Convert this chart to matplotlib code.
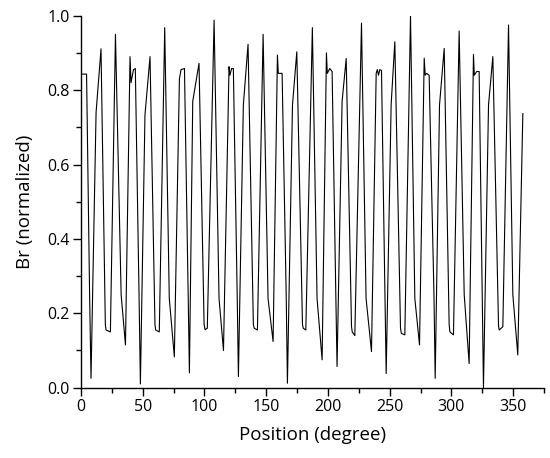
import matplotlib
matplotlib.use("Agg")
import matplotlib.pyplot as plt
from matplotlib.ticker import MultipleLocator, FormatStrFormatter

# Traced waveform vertices: position (degree) and normalized Br
position = [
    0.0, 4.5, 7.0, 8.1, 12.2, 16.2, 19.7, 20.3, 23.8, 27.9, 32.5, 36.0,
    39.7, 40.5, 42.5, 44.0, 47.0, 48.1, 51.8, 55.9, 59.9, 60.5, 63.4, 67.8,
    71.5, 75.6, 79.7, 81.0, 83.8, 86.8, 87.8, 90.5, 95.6, 99.7, 100.5, 102.3,
    107.8, 111.8, 115.4, 119.9, 120.6, 122.0, 123.4, 126.5, 127.5, 131.5, 135.3,
    139.6, 140.3, 142.9, 147.5, 151.5, 155.6, 159.1, 159.8, 162.9, 166.2, 167.2,
    171.3, 174.8, 179.4, 180.0, 182.1, 187.4, 191.2, 195.3, 198.8, 199.5, 201.5,
    203.4, 206.4, 207.4, 211.5, 214.8, 219.1, 219.7, 221.8, 227.2, 230.9, 235.3,
    239.1, 240.0, 241.0, 242.0, 243.4, 246.2, 247.2, 251.2, 254.2, 258.8, 259.5,
    262.3, 266.9, 270.4, 274.2, 278.0, 278.8, 280.0, 282.0, 285.9, 286.9, 290.4,
    294.2, 298.2, 298.8, 301.7, 306.3, 310.4, 314.4, 317.9, 318.6, 320.5, 322.5,
    325.0, 326.0, 330.1, 333.6, 338.2, 338.8, 341.7, 346.3, 349.8, 353.8, 357.9,
]
br = [
    0.843, 0.843, 0.24, 0.025, 0.74, 0.911, 0.17, 0.155, 0.15, 0.95, 0.25, 0.115,
    0.89, 0.82, 0.855, 0.858, 0.25, 0.01, 0.733, 0.89, 0.17, 0.155, 0.15, 0.968,
    0.24, 0.083, 0.83, 0.855, 0.858, 0.25, 0.04, 0.77, 0.872, 0.17, 0.156, 0.16,
    0.988, 0.24, 0.10, 0.863, 0.84, 0.858, 0.858, 0.25, 0.03, 0.76, 0.923,
    0.17, 0.16, 0.155, 0.95, 0.24, 0.124, 0.894, 0.845, 0.845, 0.25, 0.012,
    0.76, 0.903, 0.17, 0.16, 0.155, 0.968, 0.24, 0.075, 0.90, 0.845, 0.858,
    0.85, 0.25, 0.057, 0.77, 0.885, 0.165, 0.15, 0.14, 0.98, 0.24, 0.097,
    0.845, 0.855, 0.840, 0.855, 0.853, 0.25, 0.038, 0.76, 0.93, 0.16, 0.146,
    0.142, 1.0, 0.24, 0.115, 0.886, 0.84, 0.845, 0.84, 0.25, 0.025, 0.76,
    0.912, 0.17, 0.15, 0.142, 0.959, 0.25, 0.065, 0.896, 0.84, 0.85, 0.85,
    0.25, 0.0, 0.76, 0.89, 0.165, 0.155, 0.164, 0.975, 0.25, 0.088, 0.737,
]

x_label = "Position (degree)"
y_label = "Br (normalized)"

plt.rcParams['font.family'] = ['Open Sans', 'DejaVu Sans']

fig = plt.figure(figsize=(5.5, 4.58), dpi=100)
ax = fig.add_axes([0.1473, 0.1535, 0.989 - 0.1473, 0.9657 - 0.1535])
ax.plot(position, br, color='black', linewidth=0.8)

ax.set_xlim(0, 375)
ax.set_ylim(0, 1.0)
ax.xaxis.set_major_locator(MultipleLocator(50))
ax.xaxis.set_minor_locator(MultipleLocator(25))
ax.yaxis.set_major_locator(MultipleLocator(0.2))
ax.yaxis.set_minor_locator(MultipleLocator(0.1))
ax.yaxis.set_major_formatter(FormatStrFormatter('%.1f'))

ax.spines['top'].set_visible(False)
ax.spines['right'].set_visible(False)
for s in ('left', 'bottom'):
    ax.spines[s].set_linewidth(1.0)
ax.tick_params(which='major', direction='out', length=6, width=1.0, labelsize=11.5, pad=2)
ax.tick_params(which='minor', direction='out', length=3.5, width=1.0)

ax.set_xlabel(x_label, fontsize=13.5, labelpad=8)
ax.set_ylabel(y_label, fontsize=13.5, labelpad=10)

fig.savefig("out.png", dpi=100)
